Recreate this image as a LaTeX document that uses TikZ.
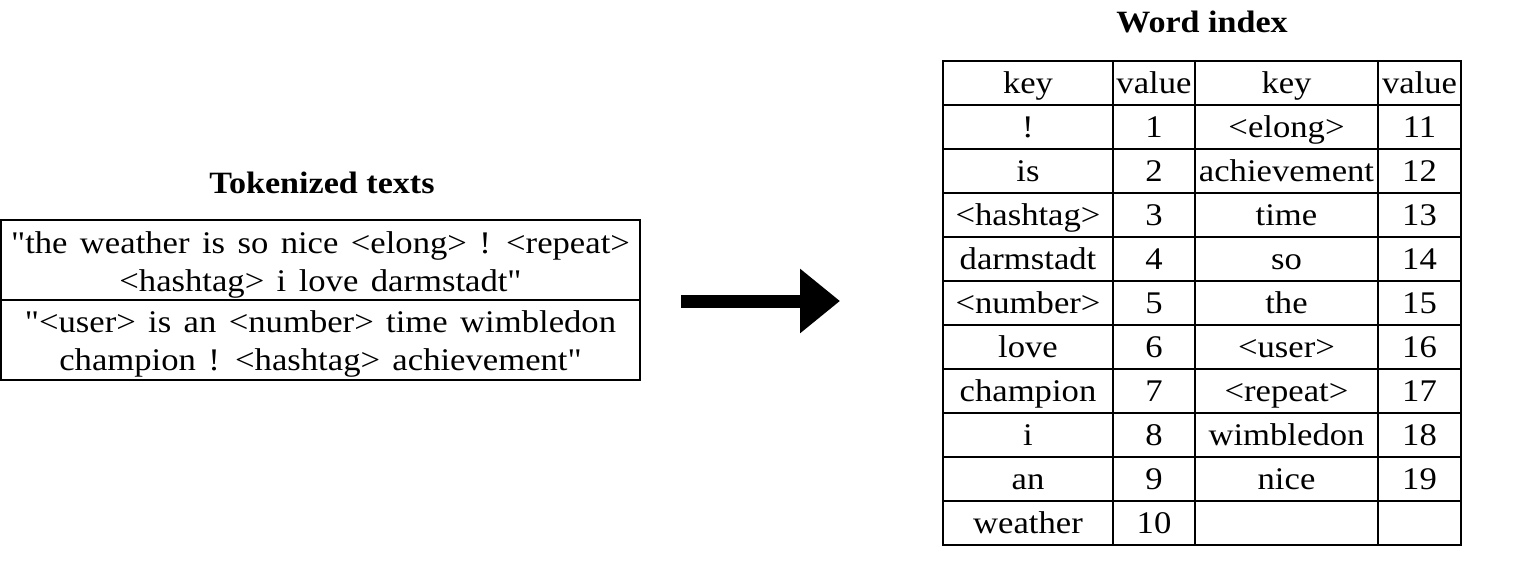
\documentclass[tikz,border=0pt]{standalone}
\usepackage{fontspec}
\setmainfont{Liberation Serif}[FakeStretch=1.1,Ligatures=TeXOff]
\usetikzlibrary{arrows.meta}
\newcommand\widespaces{\spaceskip=12.4pt\relax}
\begin{document}
\begin{tikzpicture}[x=1pt,y=-1pt,
  txt/.style={inner sep=0pt,text height=26pt,text depth=6pt,
    font=\fontsize{31.5}{36}\selectfont},
  sentence/.style={txt,font=\fontsize{31.5}{36}\selectfont\widespaces},
  heading/.style={inner sep=0pt,font=\fontsize{31}{36}\selectfont\bfseries},
  frame/.style={line width=1.6pt},
  bigarrow/.style={line width=13pt,-{Triangle[length=40pt,width=62pt]}}]
\useasboundingbox (0,0) rectangle (1522,582);

% tokenized texts box
\node[heading] (tokhead) at (322,183) {Tokenized texts};
\draw[frame] (1,220) rectangle (640,380);
\draw[frame] (1,300) -- (640,300);
\node[sentence] (s1a) at (320.5,243) {"the weather is so nice <elong> ! <repeat>};
\node[sentence] (s1b) at (320.5,281) {<hashtag> i love darmstadt"};
\node[sentence] (s2a) at (320.5,322) {"<user> is an <number> time wimbledon};
\node[sentence] (s2b) at (320.5,360) {champion ! <hashtag> achievement"};

% arrow
\coordinate (arrowfrom) at (681,301);
\coordinate (arrowto) at (840,301);
\draw[bigarrow] (arrowfrom) -- (arrowto);

% word index table
\node[heading] (idxhead) at (1202,22) {Word index};
\draw[frame] (943,61) rectangle (1461,545);
\foreach \y in {105,149,...,501} \draw[frame] (943,\y) -- (1461,\y);
\foreach \x in {1113,1195,1378} \draw[frame] (\x,61) -- (\x,545);

\node[txt] (h1) at (1028,83) {key};
\node[txt] (h2) at (1154,83) {value};
\node[txt] (h3) at (1286.5,83) {key};
\node[txt] (h4) at (1419.5,83) {value};

\foreach \ka/\va/\kb/\vb [count=\i] in {!/1/<elong>/11, is/2/achievement/12,
  <hashtag>/3/time/13, darmstadt/4/so/14, <number>/5/the/15, love/6/<user>/16,
  champion/7/<repeat>/17, i/8/wimbledon/18, an/9/nice/19}{
  \node[txt] (ka\i) at (1028,83+44*\i) {\ka};
  \node[txt] (va\i) at (1154,83+44*\i) {\va};
  \node[txt] (kb\i) at (1286.5,83+44*\i) {\kb};
  \node[txt] (vb\i) at (1419.5,83+44*\i) {\vb};
}
\node[txt] (ka10) at (1028,523) {weather};
\node[txt] (va10) at (1154,523) {10};
\end{tikzpicture}
\end{document}
